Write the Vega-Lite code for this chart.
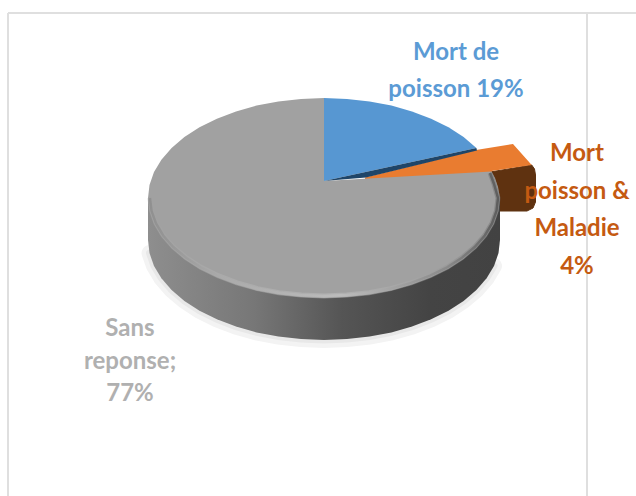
{"$schema":"https://vega.github.io/schema/vega-lite/v6.json","width":636,"height":496,"padding":0,"autosize":"none","background":"white","config":{"view":{"stroke":null}},
"datasets":{
"frame":[{"x":8,"y":13,"x2":636,"y2":13},{"x":8,"y":13,"x2":8,"y2":496},{"x":587,"y":13,"x2":587,"y2":496}],
"bottomEdge":[{"x":494,"y":265.9},{"x":486.6,"y":278.3},{"x":476.4,"y":290},{"x":463.6,"y":300.9},{"x":448.5,"y":310.7},{"x":431.1,"y":319.3},{"x":412,"y":326.6},{"x":391.4,"y":332.4},{"x":369.6,"y":336.6},{"x":347,"y":339.1},{"x":324,"y":340},{"x":301,"y":339.1},{"x":278.4,"y":336.6},{"x":256.6,"y":332.4},{"x":236,"y":326.6},{"x":216.9,"y":319.3},{"x":199.5,"y":310.7},{"x":184.4,"y":300.9},{"x":171.6,"y":290},{"x":161.4,"y":278.3},{"x":154,"y":265.9},{"x":149.5,"y":253.1}],
"side":[{"x":500,"y":198},{"x":500,"y":240},{"x":498.5,"y":253.1},{"x":494,"y":265.9},{"x":486.6,"y":278.3},{"x":476.4,"y":290},{"x":463.6,"y":300.9},{"x":448.5,"y":310.7},{"x":431.1,"y":319.3},{"x":412,"y":326.6},{"x":391.4,"y":332.4},{"x":369.6,"y":336.6},{"x":347,"y":339.1},{"x":324,"y":340},{"x":301,"y":339.1},{"x":278.4,"y":336.6},{"x":256.6,"y":332.4},{"x":236,"y":326.6},{"x":216.9,"y":319.3},{"x":199.5,"y":310.7},{"x":184.4,"y":300.9},{"x":171.6,"y":290},{"x":161.4,"y":278.3},{"x":154,"y":265.9},{"x":149.5,"y":253.1},{"x":148,"y":240},{"x":148,"y":198}],
"brown":[{"x":490,"y":172},{"x":531.7,"y":165},{"x":534.5,"y":169},{"x":535.5,"y":175},{"x":535.5,"y":202},{"x":533,"y":208},{"x":527,"y":211},{"x":495,"y":211}],
"grayTop":[{"x":324,"y":181},{"x":324,"y":98},{"x":301,"y":98.9},{"x":278.4,"y":101.4},{"x":256.6,"y":105.6},{"x":236,"y":111.4},{"x":216.9,"y":118.7},{"x":199.5,"y":127.3},{"x":184.4,"y":137.1},{"x":171.6,"y":148},{"x":161.4,"y":159.7},{"x":154,"y":172.1},{"x":149.5,"y":184.9},{"x":148,"y":198},{"x":149.5,"y":211.1},{"x":154,"y":223.9},{"x":161.4,"y":236.3},{"x":171.6,"y":248},{"x":184.4,"y":258.9},{"x":199.5,"y":268.7},{"x":216.9,"y":277.3},{"x":236,"y":284.6},{"x":256.6,"y":290.4},{"x":278.4,"y":294.6},{"x":301,"y":297.1},{"x":324,"y":298},{"x":347,"y":297.1},{"x":369.6,"y":294.6},{"x":391.4,"y":290.4},{"x":412,"y":284.6},{"x":431.1,"y":277.3},{"x":448.5,"y":268.7},{"x":463.6,"y":258.9},{"x":476.4,"y":248},{"x":486.6,"y":236.3},{"x":494,"y":223.9},{"x":498.5,"y":211.1},{"x":500,"y":198},{"x":498,"y":187},{"x":495,"y":178},{"x":491.5,"y":171.5}],
"rim":[{"x":490,"y":173},{"x":494,"y":184},{"x":498,"y":198},{"x":496.5,"y":210.8},{"x":492,"y":223.4},{"x":484.8,"y":235.5},{"x":474.7,"y":247},{"x":461.9,"y":257.7},{"x":447.1,"y":267.3},{"x":430,"y":275.7},{"x":411,"y":282.9},{"x":390.6,"y":288.6},{"x":369.1,"y":292.7},{"x":346.7,"y":295.1},{"x":324,"y":296},{"x":301.3,"y":295.1},{"x":278.9,"y":292.7},{"x":257.4,"y":288.6},{"x":237,"y":282.9},{"x":218,"y":275.7},{"x":200.9,"y":267.3},{"x":186.1,"y":257.7},{"x":173.3,"y":247},{"x":163.2,"y":235.5},{"x":156,"y":223.4},{"x":151.5,"y":210.8},{"x":150,"y":198}],
"orange":[{"x":365,"y":180},{"x":365,"y":177.5},{"x":476,"y":150},{"x":513,"y":144},{"x":531.7,"y":165},{"x":491.7,"y":171},{"x":491.7,"y":175}],
"blue":[{"x":324,"y":181},{"x":324,"y":98},{"x":347,"y":98.9},{"x":369.6,"y":101.4},{"x":391.4,"y":105.6},{"x":412,"y":111.4},{"x":431.1,"y":118.7},{"x":448.5,"y":127.3},{"x":463.6,"y":137.1},{"x":476.4,"y":148}],
"navy":[{"x":324,"y":181},{"x":476.4,"y":148},{"x":477,"y":150.5},{"x":366,"y":177.5}],
"labels":[{"label":"Mort de\npoisson 19%","x":456,"y":53,"part":"Mort de poisson","share":19},{"label":"Mort\npoisson &\nMaladie\n4%","x":577,"y":154,"part":"Mort poisson & Maladie","share":4},{"label":"Sans\nreponse;\n77%","x":130,"y":329,"part":"Sans reponse","share":77}]
},
"encoding":{"x":{"field":"x","type":"quantitative","scale":{"domain":[0,636],"nice":false,"zero":false},"axis":null},"y":{"field":"y","type":"quantitative","scale":{"domain":[496,0],"nice":false,"zero":false},"axis":null}},
"layer":[
{"data":{"name":"frame"},"mark":{"type":"rule","color":"#dfdfdf","strokeWidth":2},"encoding":{"x2":{"field":"x2"},"y2":{"field":"y2"}}},
{"data":{"name":"bottomEdge"},"mark":{"type":"line","stroke":"#f3f3f3","strokeWidth":16,"strokeCap":"round"},"encoding":{"order":{"value":null}}},
{"data":{"name":"bottomEdge"},"mark":{"type":"line","stroke":"#e8e8e8","strokeWidth":7,"strokeCap":"round"},"encoding":{"order":{"value":null}}},
{"data":{"name":"brown"},"mark":{"type":"line","fill":"#5f3210","stroke":"#5f3210","strokeWidth":1},"encoding":{"order":{"value":null}}},
{"data":{"name":"orange"},"mark":{"type":"line","stroke":null,"fill":"#e97c30"},"encoding":{"order":{"value":null}}},
{"data":{"name":"side"},"mark":{"type":"line","stroke":null,"fill":{"gradient":"linear","x1":0,"y1":0,"x2":1,"y2":0,"stops":[{"offset":0,"color":"#8e8e8e"},{"offset":0.3,"color":"#777777"},{"offset":0.55,"color":"#555555"},{"offset":0.8,"color":"#444444"},{"offset":1,"color":"#424242"}]}},"encoding":{"order":{"value":null}}},
{"data":{"name":"grayTop"},"mark":{"type":"line","stroke":null,"fill":"#a1a1a1"},"encoding":{"order":{"value":null}}},
{"data":{"name":"rim"},"mark":{"type":"line","strokeWidth":5,"opacity":0.45,"stroke":{"gradient":"linear","x1":1,"y1":0,"x2":0,"y2":0,"stops":[{"offset":0,"color":"#6a6a6a"},{"offset":0.2,"color":"#a1a1a1"},{"offset":0.45,"color":"#c4c4c4"},{"offset":0.8,"color":"#b5b5b5"},{"offset":1,"color":"#a1a1a1"}]}},"encoding":{"order":{"value":null}}},
{"data":{"name":"rim"},"mark":{"type":"line","strokeWidth":2.5,"stroke":{"gradient":"linear","x1":1,"y1":0,"x2":0,"y2":0,"stops":[{"offset":0,"color":"#5e5e5e"},{"offset":0.15,"color":"#8a8a8a"},{"offset":0.45,"color":"#bcbcbc"},{"offset":0.8,"color":"#aaaaaa"},{"offset":1,"color":"#909090"}]}},"encoding":{"order":{"value":null}}},
{"data":{"name":"blue"},"mark":{"type":"line","stroke":null,"fill":"#5797d2"},"encoding":{"order":{"value":null}}},
{"data":{"name":"navy"},"mark":{"type":"line","stroke":null,"fill":"#1f4568"},"encoding":{"order":{"value":null}}},
{"data":{"name":"labels"},"mark":{"type":"text","font":"Lato","fontWeight":"bold","fontSize":24,"lineBreak":"\n","lineHeight":37.3,"align":"center","baseline":"middle"},"transform":[{"filter":"datum.share==19"}],"encoding":{"text":{"field":"label"},"color":{"value":"#5b9bd5"}}},
{"data":{"name":"labels"},"mark":{"type":"text","font":"Lato","fontWeight":"bold","fontSize":24,"lineBreak":"\n","lineHeight":37.5,"align":"center","baseline":"middle"},"transform":[{"filter":"datum.share==4"}],"encoding":{"text":{"field":"label"},"color":{"value":"#c55a11"}}},
{"data":{"name":"labels"},"mark":{"type":"text","font":"Lato","fontWeight":"bold","fontSize":24,"lineBreak":"\n","lineHeight":32.5,"align":"center","baseline":"middle"},"transform":[{"filter":"datum.share==77"}],"encoding":{"text":{"field":"label"},"color":{"value":"#b0b0b0"}}}
]}
